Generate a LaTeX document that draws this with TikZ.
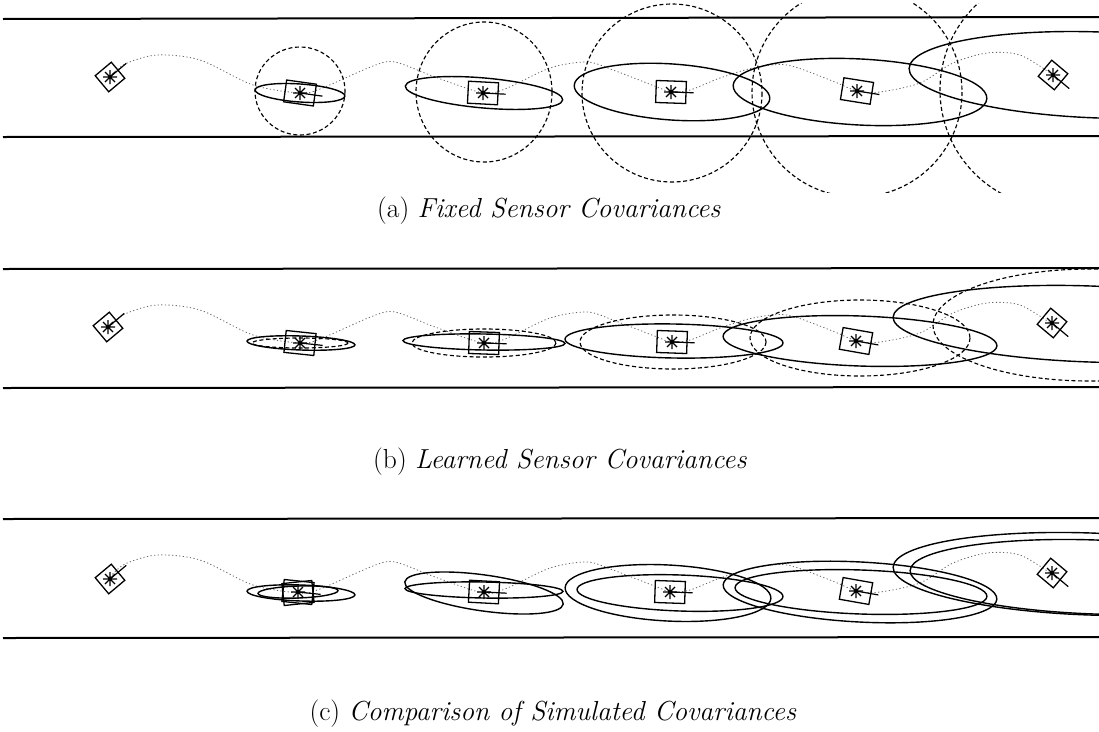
\documentclass[tikz,border=0pt]{standalone}
\usetikzlibrary{calc}
\begin{document}
\tikzset{
  road/.style={line width=2pt},
  est/.style={line width=1.4pt},
  sens/.style={line width=1.15pt, dash pattern=on 4pt off 2.6pt},
  traj/.style={line width=0.8pt, black!60, dash pattern=on 1.2pt off 2.4pt},
  robotbox/.style={draw, line width=1.3pt, minimum width=30pt, minimum height=22pt, inner sep=0pt},
  beacon/.style={draw, line width=1.3pt, minimum size=21pt, inner sep=0pt},
  starst/.style={line width=1.3pt},
  headst/.style={line width=1.2pt},
  captext/.style={font=\fontsize{27.5}{32}\selectfont, inner sep=0pt}
}
\newcommand\robot[6]{%
  \node[#5, rotate=#4] (#1) at (#2,#3) {};
  \draw[starst] (#1.center) +(-7,0) -- +(7,0) +(0,-7) -- +(0,7)
     +(-5,-5) -- +(5,5) +(-5,5) -- +(5,-5);
  \draw[headst] (#1.center) -- ($(#1.center)!#6!(#1.east)$);
}
\newcommand\trajpath{%
  \draw[traj] plot[smooth, tension=0.5] coordinates {
    (110,77) (125,64) (157,55) (200,60) (253,85) (300,93) (320,89) (373,66)
    (395,62) (435,77) (483,93) (505,89) (550,68) (587,62) (613,70) (657,87)
    (671,92) (690,90) (720,78) (753,68) (787,65) (830,80) (857,91) (880,92)
    (920,83) (953,63) (987,53) (1020,55) (1053,75)};
}
\begin{tikzpicture}[x=1pt, y=-1pt]
\useasboundingbox (0,0) rectangle (1099,731);

% ---------------- panel (a) ----------------
\draw[road] (3,19) -- (1099,17);
\draw[road] (3,137) -- (1099,136);
\trajpath
\begin{scope}
  \clip (0,3) rectangle (1099,192);
  \draw[sens] (300,91) ellipse [x radius=45, y radius=44];
  \draw[sens] (484,92) ellipse [x radius=68, y radius=70];
  \draw[sens] (672,93) ellipse [x radius=90, y radius=89];
  \draw[sens] (857,92) circle [radius=105];
  \draw[sens] (1058,90) circle [radius=118];
\end{scope}
\draw[est, rotate around={-4:(300,93)}] (300,93) ellipse [x radius=45, y radius=9];
\draw[est, rotate around={-5:(484,93)}] (484,93) ellipse [x radius=79, y radius=15];
\draw[est, rotate around={-4:(672,92)}] (672,92) ellipse [x radius=98, y radius=28];
\draw[est, rotate around={-3:(860,92)}] (860,92) ellipse [x radius=127, y radius=33];
\draw[est, rotate around={-2:(1099,75)}] (1099,75) ellipse [x radius=190, y radius=43];
\robot{aL}{110}{77}{40}{beacon}{1.9}
\robot{a1}{300}{93}{-8}{robotbox}{1.45}
\robot{a2}{483}{93}{-3}{robotbox}{1.45}
\robot{a3}{671}{92}{-2}{robotbox}{1.45}
\robot{a4}{857}{91}{-9}{robotbox}{1.45}
\robot{aR}{1053}{75}{-40}{beacon}{1.9}
\node[captext] (capa) at (549,211) {(a) \textit{Fixed Sensor Covariances}};

% ---------------- panel (b) ----------------
\draw[road] (3,269) -- (1099,268);
\draw[road] (3,388) -- (1099,387);
\begin{scope}[shift={(0,250)}]
  \trajpath
\end{scope}
\draw[sens] (300,343) ellipse [x radius=48, y radius=5];
\draw[sens] (484,343) ellipse [x radius=72, y radius=14];
\draw[sens] (673,342) ellipse [x radius=93, y radius=27];
\draw[sens] (860,338) ellipse [x radius=110, y radius=38];
\draw[sens] (1090,325) ellipse [x radius=157, y radius=56];
\draw[est, rotate around={-2:(301,343)}] (301,343) ellipse [x radius=54, y radius=7];
\draw[est, rotate around={-1:(484,342)}] (484,342) ellipse [x radius=81, y radius=8];
\draw[est, rotate around={-1:(674,341)}] (674,341) ellipse [x radius=109, y radius=17];
\draw[est, rotate around={-2:(860,341)}] (860,341) ellipse [x radius=137, y radius=25];
\draw[est, rotate around={-2:(1090,324)}] (1090,324) ellipse [x radius=197, y radius=38];
\robot{bL}{108}{327}{40}{beacon}{1.9}
\robot{b1}{300}{343}{-6}{robotbox}{1.45}
\robot{b2}{484}{343}{-2}{robotbox}{1.45}
\robot{b3}{672}{342}{-2}{robotbox}{1.45}
\robot{b4}{856}{341}{-10}{robotbox}{1.45}
\robot{bR}{1052}{323}{-40}{beacon}{1.9}
\node[captext] (capb) at (560,462) {(b) \textit{Learned Sensor Covariances}};

% ---------------- panel (c) ----------------
\draw[road] (3,519) -- (1099,518);
\draw[road] (3,638) -- (1099,637);
\begin{scope}[shift={(0,500)}]
  \trajpath
\end{scope}
\draw[est, rotate around={-2:(301,593)}] (301,593) ellipse [x radius=54, y radius=8];
\draw[est, rotate around={2:(298,592)}] (298,592) ellipse [x radius=40, y radius=6];
\draw[est, rotate around={-8:(484,593)}] (484,593) ellipse [x radius=80, y radius=18];
\draw[est, rotate around={-1:(484,590)}] (484,590) ellipse [x radius=79, y radius=8];
\draw[est, rotate around={-3:(668,593)}] (668,593) ellipse [x radius=103, y radius=28];
\draw[est, rotate around={-2:(680,593)}] (680,593) ellipse [x radius=103, y radius=18];
\draw[est, rotate around={-3:(860,592)}] (860,592) ellipse [x radius=137, y radius=30];
\draw[est, rotate around={-2:(861,592)}] (861,592) ellipse [x radius=126, y radius=22];
\draw[est, rotate around={-2:(1090,574)}] (1090,574) ellipse [x radius=197, y radius=41];
\draw[est, rotate around={-2:(1095,577)}] (1095,577) ellipse [x radius=185, y radius=37];
\robot{cL}{110}{579}{40}{beacon}{1.9}
\node[robotbox, rotate=6] (c1b) at (298,593) {};
\robot{c1}{298}{592}{-6}{robotbox}{1.45}
\robot{c2}{484}{592}{-3}{robotbox}{1.45}
\robot{c3}{670}{592}{-2}{robotbox}{1.45}
\robot{c4}{856}{591}{-10}{robotbox}{1.45}
\robot{cR}{1052}{573}{-40}{beacon}{1.9}
\node[captext] (capc) at (553,714) {(c) \textit{Comparison of Simulated Covariances}};
\end{tikzpicture}
\end{document}
